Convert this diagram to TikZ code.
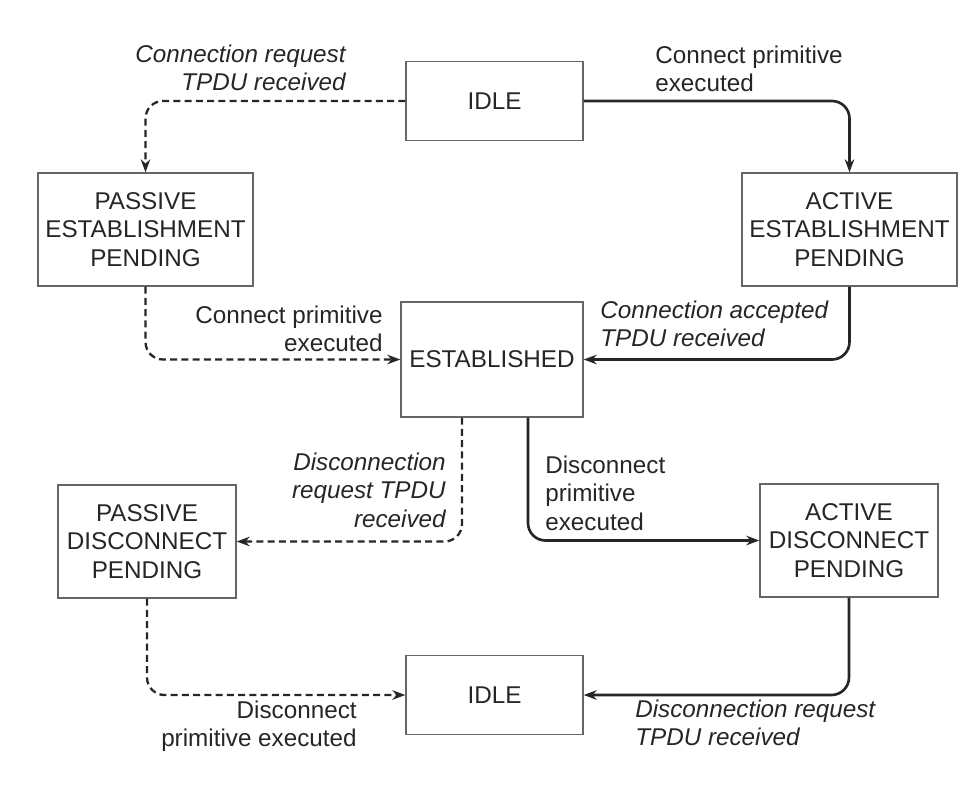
\documentclass[tikz,border=0pt]{standalone}
\usepackage{fontspec}
\setmainfont{Liberation Sans}
\usetikzlibrary{positioning,arrows.meta,calc}
\newcommand\diagfont{\fontsize{13.8}{16.2}\selectfont}
\tikzset{
  statebox/.style={draw=black!60,line width=0.8pt,align=center,inner sep=1pt,text=black!85},
  widebox/.style={statebox,minimum width=4.3cm,minimum height=2.26cm},
  narrowbox/.style={statebox,minimum width=3.56cm,minimum height=2.26cm},
  idlebox/.style={statebox,minimum width=3.54cm,minimum height=1.58cm},
  evlabel/.style={inner sep=0pt,text=black!85},
  tpdulabel/.style={evlabel,font=\diagfont\itshape},
  solidarrow/.style={->,draw=black!85,line width=1.5pt,rounded corners=0.35cm},
  dashedarrow/.style={solidarrow,dash pattern=on 4pt off 2.4pt,line width=1.3pt},
}

\begin{document}
\begin{tikzpicture}[x=0.02cm,y=-0.02cm,>={Stealth[length=2.6mm,width=1.9mm]},font=\diagfont]
\useasboundingbox (0,0) rectangle (974,788);

% states
\node[idlebox] (idle1) at (494.5,101) {IDLE};
\node[widebox] (pep) at (145.5,229.5) {PASSIVE\\ESTABLISHMENT\\PENDING};
\node[widebox] (aep) at (849.5,229.5) {ACTIVE\\ESTABLISHMENT\\PENDING};
\node[statebox,minimum width=3.64cm,minimum height=2.3cm] (est) at (492,359.5) {ESTABLISHED};
\node[narrowbox] (pdp) at (147,541.5) {PASSIVE\\DISCONNECT\\PENDING};
\node[narrowbox] (adp) at (849,540.5) {ACTIVE\\DISCONNECT\\PENDING};
\node[idlebox] (idle2) at (494.5,695) {IDLE};

% transitions
\draw[dashedarrow] (idle1.west) -| (pep.north);
\draw[solidarrow] (idle1.east) -| (aep.north);
\draw[dashedarrow] (pep.south) |- (est.west);
\draw[solidarrow] (aep.south) |- (est.east);
\draw[dashedarrow] ([xshift=-0.6cm]est.south) |- (pdp.east);
\draw[solidarrow] ([xshift=0.72cm]est.south) |- (adp.west);
\draw[dashedarrow] (pdp.south) |- (idle2.west);
\draw[solidarrow] (adp.south) |- (idle2.east);

% labels
\node[tpdulabel,align=right,anchor=north east] (lreq) at (346,44.5) {Connection request\\TPDU received};
\node[evlabel,align=left,anchor=north west] (lcon) at (655,45.5) {Connect primitive\\executed};
\node[evlabel,align=right,anchor=north east] (lcon2) at (383,305.5) {Connect primitive\\executed};
\node[tpdulabel,align=left,anchor=north west] (lacc) at (600,300.5) {Connection accepted\\TPDU received};
\node[tpdulabel,align=right,anchor=north east] (ldreq) at (446,452.5) {Disconnection\\request TPDU\\received};
\node[evlabel,align=left,anchor=north west] (ldis) at (545,455.5) {Disconnect\\primitive\\executed};
\node[evlabel,align=right,anchor=north east] (ldis2) at (357,700.5) {Disconnect\\primitive executed};
\node[tpdulabel,align=left,anchor=north west] (ldreq2) at (635,699.5) {Disconnection request\\TPDU received};
\end{tikzpicture}
\end{document}
